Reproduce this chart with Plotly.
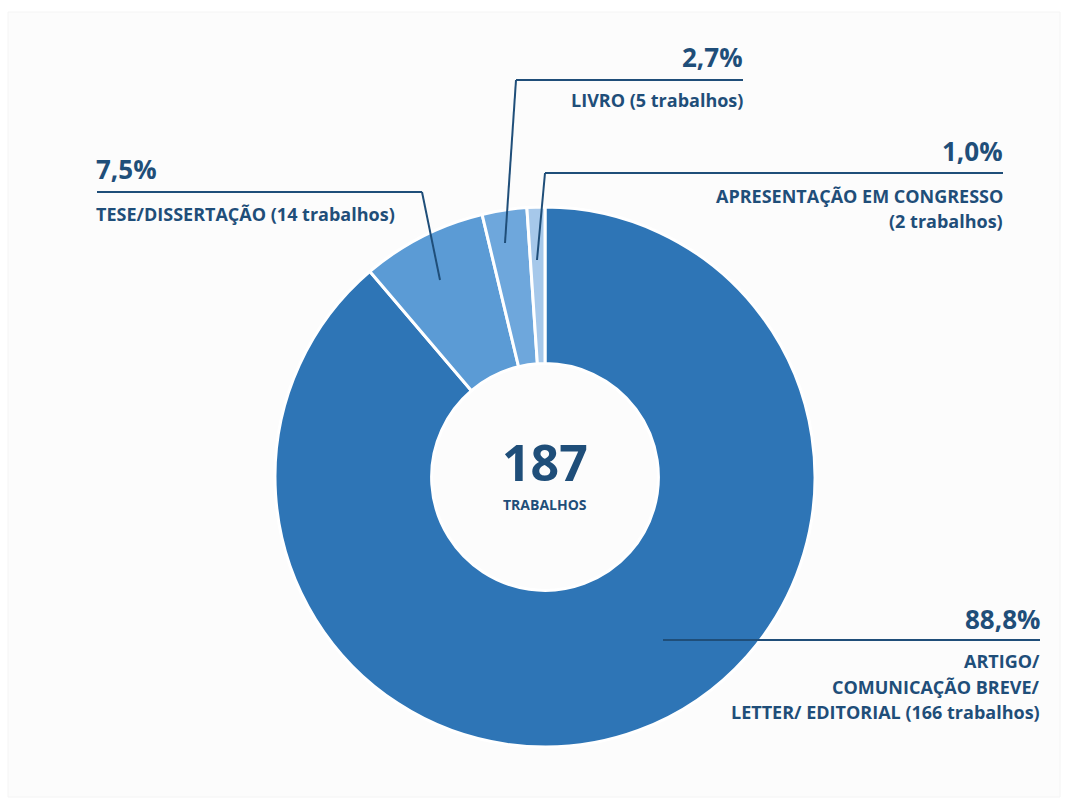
import plotly.graph_objects as go

W, H = 1067, 804

categories = ["ARTIGO/ COMUNICAÇÃO BREVE/ LETTER/ EDITORIAL", "TESE/DISSERTAÇÃO", "LIVRO", "APRESENTAÇÃO EM CONGRESSO"]
values = [166, 14, 5, 2]
pct_labels = ["88,8%", "7,5%", "2,7%", "1,0%"]
desc_labels = [
    ["ARTIGO/", "COMUNICAÇÃO BREVE/", "LETTER/ EDITORIAL (166 trabalhos)"],
    ["TESE/DISSERTAÇÃO (14 trabalhos)"],
    ["LIVRO (5 trabalhos)"],
    ["APRESENTAÇÃO EM CONGRESSO", "(2 trabalhos)"],
]
total_label = "187"
total_sub = "TRABALHOS"

colors = ["#2e75b6", "#5b9bd5", "#6ea7dc", "#a6c8ea"]
TXT = "#1f4e79"
FONT = "Open Sans"


def px(x):
    return x / W


def py(y):
    return 1 - y / H


cx, cy, R = 545, 477, 270

fig = go.Figure()
fig.add_trace(go.Pie(
    labels=categories, values=values, sort=False, direction="clockwise", rotation=0,
    hole=0.42, textinfo="none", hoverinfo="label+value+percent",
    marker=dict(colors=colors, line=dict(color="white", width=3)),
    domain=dict(x=[px(cx - R), px(cx + R)], y=[py(cy + R), py(cy - R)]),
    showlegend=False,
))

shapes = [
    dict(type="rect", xref="paper", yref="paper", x0=px(8), x1=px(1060), y0=py(797), y1=py(12),
         fillcolor="#fcfcfc", line=dict(color="#f4f4f4", width=1), layer="below"),
]

# leader lines: horizontal segment, then elbow to pie point
leaders = [
    [(663, 640), (1040, 640)],
    [(97, 192), (422, 192), (440, 280)],
    [(743, 80), (516, 80), (505, 243)],
    [(1003, 173), (545, 173), (537, 260)],
]
for pts in leaders:
    for (xa, ya), (xb, yb) in zip(pts[:-1], pts[1:]):
        shapes.append(dict(type="line", xref="paper", yref="paper",
                           x0=px(xa), y0=py(ya), x1=px(xb), y1=py(yb),
                           line=dict(color=TXT, width=2)))

annotations = []


def add_text(t, x, y, size, anchor):
    annotations.append(dict(text="<b>%s</b>" % t, x=px(x), y=py(y), xref="paper", yref="paper",
                            xanchor=anchor, yanchor="middle", showarrow=False,
                            font=dict(family=FONT, size=size, color=TXT)))


PCT_SIZE = 26
DESC_SIZE = 18
layout_pos = [
    (1042, "right", 619, [661, 687, 712]),
    (94, "left", 169, [214]),
    (745, "right", 57, [100]),
    (1005, "right", 151, [196, 221]),
]
for i, (x, anc, yp, ys) in enumerate(layout_pos):
    add_text(pct_labels[i], x, yp, PCT_SIZE, anc)
    for line, yy in zip(desc_labels[i], ys):
        add_text(line, x, yy, DESC_SIZE, anc)

add_text(total_label, cx, 462, 50, "center")
add_text(total_sub, cx, 504, 14, "center")

fig.update_layout(
    width=W, height=H, margin=dict(l=0, r=0, t=0, b=0),
    paper_bgcolor="white", plot_bgcolor="white",
    shapes=shapes, annotations=annotations,
)

fig.write_html("out.html")
